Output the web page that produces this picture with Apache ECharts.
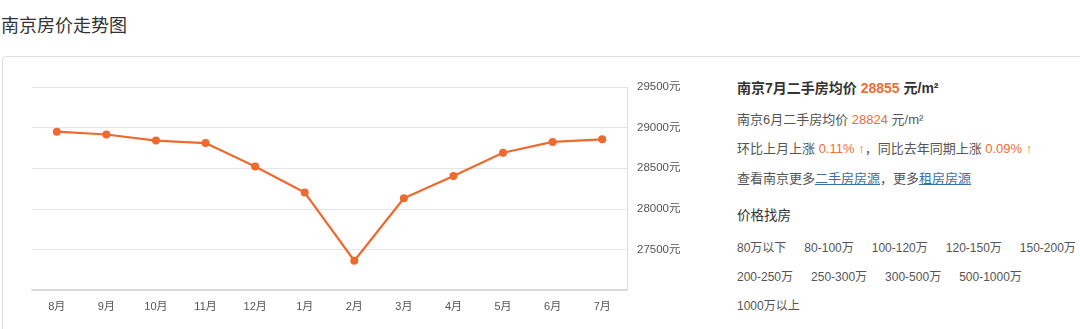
<!DOCTYPE html>
<html>
<head>
<meta charset="utf-8">
<script src="https://cdn.jsdelivr.net/npm/echarts@6/dist/echarts.min.js"></script>
<style>
  html, body { margin: 0; padding: 0; background: #fff; width: 1080px; height: 329px; overflow: hidden; }
  body { font-family: "Liberation Sans", "Noto Sans CJK SC", sans-serif; color: #555; position: relative; }
  #title { position: absolute; left: 1px; top: 14px; font-size: 18px; color: #333; line-height: 24px; }
  #box { position: absolute; left: 2px; top: 56px; width: 1100px; height: 300px; border: 1px solid #ddd; border-radius: 4px; }
  #chart { position: absolute; left: 0; top: 0; width: 700px; height: 329px; }
  #panel { position: absolute; left: 737px; top: 0; width: 343px; font-size: 13px; color: #555; }
  .ln { position: absolute; left: 0; white-space: nowrap; line-height: 18px; }
  .hl { color: #f06c37; }
  .b { font-weight: bold; font-size: 14px; color: #333; }
  a { color: #3d6ea3; text-decoration: underline; }
  .price { font-size: 12px; }
  .price span { margin-right: 18px; }
  .h { font-size: 13.5px; color: #333; }
</style>
</head>
<body>
<div id="title">南京房价走势图</div>
<div id="box"></div>
<div id="chart"></div>
<div id="panel">
  <div class="ln b" style="top:79px">南京7月二手房均价 <span class="hl">28855</span> 元/m²</div>
  <div class="ln" style="top:111px">南京6月二手房均价 <span class="hl">28824</span> 元/m²</div>
  <div class="ln" style="top:140px">环比上月上涨 <span class="hl">0.11% ↑</span>，同比去年同期上涨 <span class="hl">0.09% ↑</span></div>
  <div class="ln" style="top:170px">查看南京更多<a>二手房房源</a>，更多<a>租房房源</a></div>
  <div class="ln h" style="top:207px">价格找房</div>
  <div class="ln price" id="row1" style="top:239px"></div>
  <div class="ln price" id="row2" style="top:268px"></div>
  <div class="ln price" id="row3" style="top:297px"></div>
</div>
<script>
const months = ['8月','9月','10月','11月','12月','1月','2月','3月','4月','5月','6月','7月'];
const prices = [28950, 28915, 28840, 28810, 28520, 28200, 27360, 28130, 28405, 28690, 28824, 28855];
const yTicks = [27000, 27500, 28000, 28500, 29000, 29500];
const priceRanges1 = ['80万以下','80-100万','100-120万','120-150万','150-200万'];
const priceRanges2 = ['200-250万','250-300万','300-500万','500-1000万'];
const priceRanges3 = ['1000万以上'];

function fill(id, arr) {
  document.getElementById(id).innerHTML = arr.map(t => '<span>' + t + '</span>').join('');
}
fill('row1', priceRanges1);
fill('row2', priceRanges2);
fill('row3', priceRanges3);

const chart = echarts.init(document.getElementById('chart'), null, { renderer: 'canvas' });
chart.setOption({
  animation: false,
  grid: { left: 32, right: 73, top: 87, bottom: 39 },
  xAxis: {
    type: 'category',
    data: months,
    boundaryGap: true,
    axisLine: { lineStyle: { color: '#dcdcdc', width: 2 } },
    axisTick: { alignWithLabel: true, length: 4, lineStyle: { color: '#dcdcdc' } },
    axisLabel: { color: '#555', fontSize: 11, margin: 11, fontFamily: '"Liberation Sans", "Noto Sans CJK SC", sans-serif' }
  },
  yAxis: {
    type: 'value',
    position: 'right',
    min: yTicks[0],
    max: yTicks[yTicks.length - 1],
    interval: 500,
    axisLine: { show: true, lineStyle: { color: '#dcdcdc', width: 1 } },
    axisTick: { show: false },
    splitLine: { lineStyle: { color: '#e6e6e6', width: 1 } },
    axisLabel: {
      color: '#555', fontSize: 11.5, margin: 10,
      fontFamily: '"Liberation Sans", "Noto Sans CJK SC", sans-serif',
      formatter: v => v === yTicks[0] ? '' : v + '元'
    }
  },
  series: [{
    type: 'line',
    data: prices,
    symbol: 'circle',
    symbolSize: 8,
    lineStyle: { color: '#ee6a2e', width: 2.2 },
    itemStyle: { color: '#ee6a2e' }
  }]
});
</script>
</body>
</html>
